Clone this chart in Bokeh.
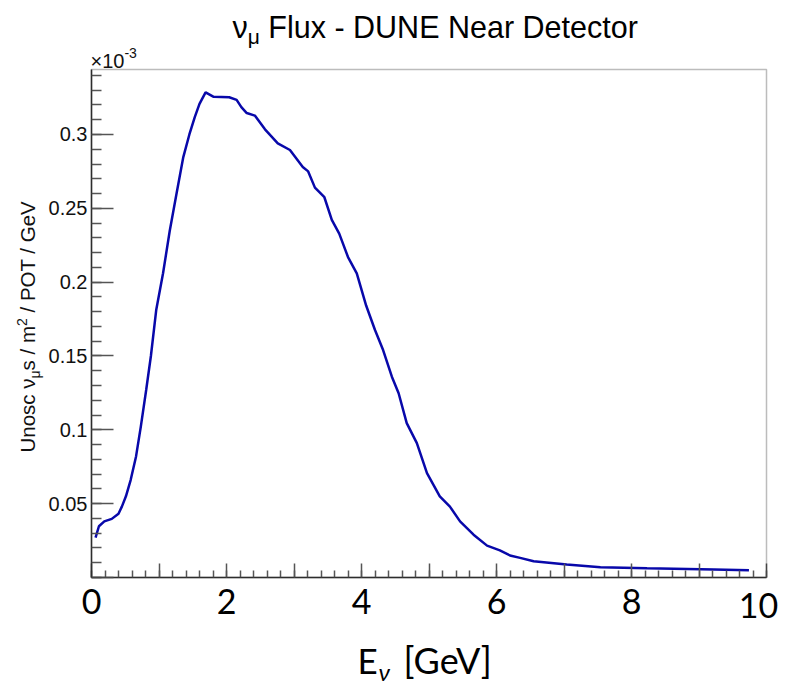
import numpy as np
from bokeh.plotting import figure
from bokeh.models import Range1d, FixedTicker, Label, BoxAnnotation
from bokeh.embed import file_html
from bokeh.resources import INLINE

# ---------------- data ----------------
energy_gev = [0.06, 0.11, 0.19, 0.30, 0.40, 0.45, 0.51, 0.58, 0.66, 0.73, 0.81, 0.88,
              0.96, 1.06, 1.16, 1.26, 1.36, 1.45, 1.53, 1.60, 1.69, 1.81, 2.04, 2.15,
              2.22, 2.30, 2.42, 2.57, 2.76, 2.94, 3.13, 3.21, 3.31, 3.45, 3.56, 3.67,
              3.80, 3.93, 4.07, 4.20, 4.32, 4.45, 4.55, 4.67, 4.82, 4.97, 5.16, 5.31,
              5.46, 5.66, 5.86, 6.05, 6.20, 6.35, 6.55, 7.04, 7.54, 8.23, 9.22, 9.74]
flux_e3 = [0.0270, 0.0347, 0.0380, 0.0397, 0.0432, 0.0480, 0.0550, 0.0660, 0.0820, 0.1020,
           0.1270, 0.1500, 0.1815, 0.2060, 0.2350, 0.2600, 0.2847, 0.3000, 0.3117, 0.3207,
           0.3285, 0.3255, 0.3252, 0.3234, 0.3185, 0.3145, 0.3128, 0.3035, 0.2940, 0.2895,
           0.2780, 0.2750, 0.2640, 0.2575, 0.2422, 0.2329, 0.2170, 0.2060, 0.1840, 0.1676,
           0.1540, 0.1360, 0.1248, 0.1045, 0.0910, 0.0707, 0.0550, 0.0480, 0.0380, 0.0290,
           0.0216, 0.0184, 0.0149, 0.0133, 0.0110, 0.0088, 0.0070, 0.0063, 0.0054, 0.0049]

x_tick_values = [0, 2, 4, 6, 8, 10]
x_tick_labels = ["0", "2", "4", "6", "8", "10"]
y_tick_values = [0.05, 0.1, 0.15, 0.2, 0.25, 0.3]
y_tick_labels = ["0.05", "0.1", "0.15", "0.2", "0.25", "0.3"]

title_parts = ["\u03bd", "\u03bc", "Flux - DUNE Near Detector"]
ylabel_parts = ["Unosc \u03bd", "\u03bc", "s / m", "2", "/ POT / GeV"]
xlabel_parts = ["E", "\u03bd", "[GeV]"]
exponent_parts = ["\u00d710", "-3"]

X_MAX = 10.0
Y_MAX = 0.344

# ---------------- layout ----------------
# The Bokeh frame covers the whole canvas; the ROOT-like box is drawn inside it
W_FIG, H_FIG = 786, 687
L, T, FW, FH = 91, 69, 675, 508   # box position inside the canvas (pixels)

sx = X_MAX / FW
sy = Y_MAX / FH
x_range = Range1d(-L * sx, X_MAX + (W_FIG - L - FW) * sx)
y_range = Range1d(-(H_FIG - T - FH) * sy, Y_MAX + T * sy)

p = figure(width=W_FIG, height=H_FIG, x_range=x_range, y_range=y_range,
           output_backend="svg", toolbar_location=None, min_border=0)
p.xgrid.visible = False
p.ygrid.visible = False
p.background_fill_color = "white"
p.border_fill_color = "white"
p.outline_line_color = None


def dx(px):
    return (px - L) * sx


def dy(py):
    return (T + FH - py) * sy


ARIAL = {' ': 278, '-': 333, '/': 278, '.': 278, 'D': 722, 'U': 722, 'N': 722, 'E': 667,
         'F': 611, 'P': 667, 'O': 778, 'T': 611, 'G': 778, 'V': 667, 'a': 556, 'c': 500,
         'e': 556, 'l': 222, 'm': 833, 'n': 556, 'o': 556, 'r': 333, 's': 500, 't': 278,
         'u': 556, 'x': 500, '\u03bd': 500, '\u03bc': 576, '\u00d7': 584}


def tw(text, size):
    return sum(ARIAL.get(c, 556) for c in text) / 1000.0 * size


K_MID = 0.35  # distance (in em) from the text box middle down to the baseline


def mid(baseline, size):
    return baseline - K_MID * size


# ---------------- frame box ----------------
p.add_layout(BoxAnnotation(left=0, right=X_MAX, bottom=0, top=Y_MAX,
                           fill_alpha=0, fill_color=None,
                           line_color="#222222", line_width=1.5))

# ---------------- axes ----------------
AX = "#333333"
TK = "#555555"
xa = p.xaxis[0]
xa.fixed_location = 0
xa.bounds = (0, X_MAX)
xa.ticker = FixedTicker(ticks=list(range(0, 11)),
                        minor_ticks=[round(0.2 * i, 2) for i in range(0, 51)])
xover = {i: "" for i in range(0, 11)}
for v, s in zip(x_tick_values, x_tick_labels):
    if v < X_MAX:
        xover[v] = s
xa.major_label_overrides = xover
xa.major_tick_in = 14
xa.major_tick_out = 0
xa.minor_tick_in = 7
xa.minor_tick_out = 0
xa.axis_line_color = AX
xa.axis_line_width = 1.5
xa.major_tick_line_color = TK
xa.major_tick_line_width = 1.5
xa.minor_tick_line_color = TK
xa.minor_tick_line_width = 1.5
xa.major_label_text_font = "Lato"
xa.major_label_text_font_size = "34px"
xa.major_label_text_color = "black"
xa.major_label_standoff = 11

ya = p.yaxis[0]
ya.fixed_location = 0
ya.bounds = (0, Y_MAX)
yminor = [round(0.01 * i, 2) for i in range(0, 35)]
ya.ticker = FixedTicker(ticks=[0.0] + y_tick_values, minor_ticks=yminor)
yover = {0.0: ""}
for v, s in zip(y_tick_values, y_tick_labels):
    yover[v] = s
ya.major_label_overrides = yover
ya.major_tick_in = 22
ya.major_tick_out = 0
ya.minor_tick_in = 10
ya.minor_tick_out = 0
ya.axis_line_color = AX
ya.axis_line_width = 1.5
ya.major_tick_line_color = TK
ya.major_tick_line_width = 1.5
ya.minor_tick_line_color = TK
ya.minor_tick_line_width = 1.5
ya.major_label_text_font = "Liberation Sans"
ya.major_label_text_font_size = "20px"
ya.major_label_text_color = "#111111"
ya.major_label_standoff = 4

# ---------------- curve ----------------
p.line(energy_gev, flux_e3, line_color="#0808aa", line_width=2.5)

# ---------------- texts ----------------
HF = "Liberation Sans"

# last x tick label, pulled inside like in the reference
p.add_layout(Label(x=x_tick_values[-1], y=dy(mid(617, 34)), x_offset=-8, text=x_tick_labels[-1],
                   text_align="center", text_baseline="middle", text_font="Lato",
                   text_font_size="34px", text_color="black"))

# title
ts, tsub = 30.5, 21
tx0, tbase = 232, 37
p.add_layout(Label(x=dx(tx0), y=dy(mid(tbase, ts)), text=title_parts[0], text_font=HF,
                   text_font_size=f"{ts}px", text_baseline="middle", text_color="black"))
tx1 = tx0 + tw(title_parts[0], ts)
p.add_layout(Label(x=dx(tx1), y=dy(mid(tbase + 6, tsub)), text=title_parts[1], text_font=HF,
                   text_font_size=f"{tsub}px", text_baseline="middle", text_color="black"))
tx2 = tx1 + tw(title_parts[1], tsub) + tw(" ", ts)
p.add_layout(Label(x=dx(tx2), y=dy(mid(tbase, ts)), text=title_parts[2], text_font=HF,
                   text_font_size=f"{ts}px", text_baseline="middle", text_color="black"))

# exponent
es, esub = 20, 14
p.add_layout(Label(x=dx(90), y=dy(mid(67, es)), text=exponent_parts[0], text_font=HF,
                   text_font_size=f"{es}px", text_baseline="middle", text_color="#111111"))
p.add_layout(Label(x=dx(90 + tw(exponent_parts[0], es)), y=dy(mid(57, esub)),
                   text=exponent_parts[1], text_font=HF, text_font_size=f"{esub}px",
                   text_baseline="middle", text_color="#111111"))

# y axis title (rotated, built from pieces); for rotated text "down" is +x on screen
ys, ysub = 20.5, 14
ybx = 34
ypos = 452
sizes = [ys, ysub, ys, ysub, ys]
shifts = [0, 5, 0, -8, 0]
for i, (part, sz, sh) in enumerate(zip(ylabel_parts, sizes, shifts)):
    p.add_layout(Label(x=dx(ybx + sh - K_MID * sz), y=dy(ypos), text=part, angle=np.pi / 2,
                       text_align="left", text_baseline="middle", text_font=HF,
                       text_font_size=f"{sz}px", text_color="#111111"))
    ypos -= tw(part, sz)
    if i == 3:
        ypos -= tw(" ", ys)

# x axis title
xs, xsub = 35, 24
xx0, xbase = 357, 672
p.add_layout(Label(x=dx(xx0), y=dy(mid(xbase, xs)), text=xlabel_parts[0], text_font="Lato",
                   text_font_size=f"{xs}px", text_baseline="middle", text_color="black"))
xx1 = 378
p.add_layout(Label(x=dx(xx1), y=dy(mid(xbase + 7, xsub)), text=xlabel_parts[1], text_font="Lato",
                   text_font_style="italic", text_font_size=f"{xsub}px",
                   text_baseline="middle", text_color="black"))
xx2 = 403
p.add_layout(Label(x=dx(xx2), y=dy(mid(xbase, 36)), text=xlabel_parts[2], text_font="Lato",
                   text_font_size="36px", text_baseline="middle", text_color="black"))

open("out.html", "w").write(file_html(p, INLINE))
